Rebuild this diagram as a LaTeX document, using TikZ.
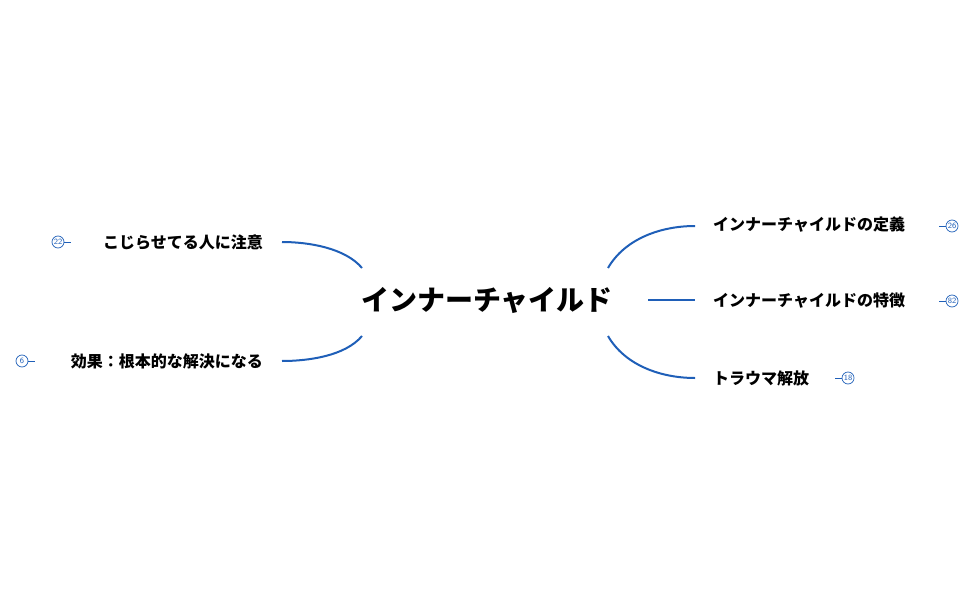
\documentclass[tikz,border=0pt]{standalone}
\usepackage{fontspec}
\newfontfamily\cjk{Noto Sans CJK JP}
\begin{document}
\begin{tikzpicture}[x=1pt,y=-1pt,
  conn/.style={draw=linkblue,line width=2pt},
  leaf/.style={font=\cjk\bfseries\fontsize{16}{18}\selectfont,inner sep=0pt},
  badge/.style={circle,draw=linkblue,line width=0.7pt,minimum size=12pt,inner sep=0pt,font=\fontsize{8}{8}\sffamily,text=linkblue}]
\definecolor{linkblue}{HTML}{1F5FB8}
\useasboundingbox (0,0) rectangle (976,604);
\node[font=\cjk\bfseries\fontsize{28}{30}\selectfont,inner sep=0pt] (root) at (487,300) {インナーチャイルド};
\coordinate (rtr) at (608,268);
\coordinate (rmr) at (648,300);
\coordinate (rbr) at (608,336);
\coordinate (rtl) at (362,268);
\coordinate (rbl) at (362,336);
\coordinate (a1) at (695,226);
\coordinate (a2) at (695,300);
\coordinate (a3) at (695,378);
\coordinate (b1) at (282,242);
\coordinate (b2) at (282,361);
\node[leaf,anchor=west] (c1) at (713,225) {インナーチャイルドの定義};
\node[leaf,anchor=west] (c2) at (713,301) {インナーチャイルドの特徴};
\node[leaf,anchor=west] (c3) at (713,378) {トラウマ解放};
\node[leaf,anchor=east] (d1) at (263,242) {こじらせてる人に注意};
\node[leaf,anchor=east] (d2) at (263,361) {効果：根本的な解決になる};
\draw[conn] (rtr) to[out=-60+120,in=180,looseness=0.9] (a1);
\draw[conn] (rmr) -- (a2);
\draw[conn] (rbr) to[out=-60,in=180,looseness=0.9] (a3);
\draw[conn] (rtl) to[out=130,in=0,looseness=0.8] (b1);
\draw[conn] (rbl) to[out=-130,in=0,looseness=0.8] (b2);
\node[badge] (n1) at (952,226) {26};
\node[badge] (n2) at (952,301) {82};
\node[badge] (n3) at (848,378) {18};
\node[badge] (n4) at (58,242) {22};
\node[badge] (n5) at (22,361) {6};
\draw[linkblue,line width=0.8pt] (n1.west) -- ++(-7,0);
\draw[linkblue,line width=0.8pt] (n2.west) -- ++(-7,0);
\draw[linkblue,line width=0.8pt] (n3.west) -- ++(-7,0);
\draw[linkblue,line width=0.8pt] (n4.east) -- ++(7,0);
\draw[linkblue,line width=0.8pt] (n5.east) -- ++(7,0);
\end{tikzpicture}
\end{document}
